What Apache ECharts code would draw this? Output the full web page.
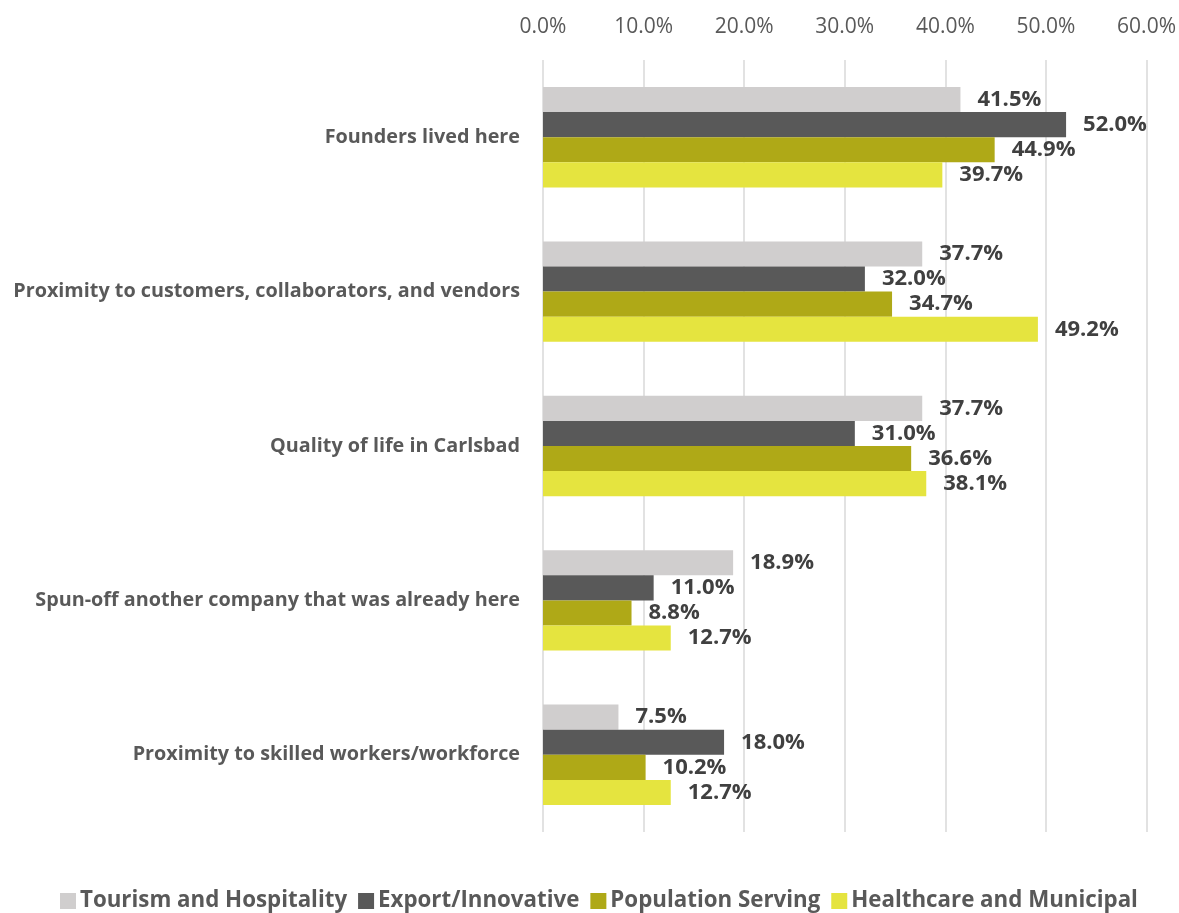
<!DOCTYPE html>
<html>
<head>
<meta charset="utf-8">
<script src="https://cdn.jsdelivr.net/npm/echarts@6/dist/echarts.min.js"></script>
<style>
  html, body { margin: 0; padding: 0; background: #fff; }
  #chart { width: 1179px; height: 913px; }
</style>
</head>
<body>
<div id="chart"></div>
<script>
// Reasons for locating the business in Carlsbad, by industry cluster (share of respondents, %)
const categories = [
  'Founders lived here',
  'Proximity to customers, collaborators, and vendors',
  'Quality of life in Carlsbad',
  'Spun-off another company that was already here',
  'Proximity to skilled workers/workforce'
];
const seriesNames = ['Tourism and Hospitality', 'Export/Innovative', 'Population Serving', 'Healthcare and Municipal'];
const tourism    = [41.5, 37.7, 37.7, 18.9, 7.5];
const exportInno = [52.0, 32.0, 31.0, 11.0, 18.0];
const population = [44.9, 34.7, 36.6, 8.8, 10.2];
const healthcare = [39.7, 49.2, 38.1, 12.7, 12.7];
const axisTicks  = [0, 10, 20, 30, 40, 50, 60];

const colors = ['#D0CECE', '#595959', '#AFA917', '#E5E43F'];
const FONT = '"Open Sans", "Liberation Sans", sans-serif';
const values = [tourism, exportInno, population, healthcare];

const chart = echarts.init(document.getElementById('chart'));
chart.setOption({
  animation: false,
  color: colors,
  textStyle: { fontFamily: FONT },
  grid: { left: 543, right: 31, top: 60, bottom: 81, containLabel: false },
  legend: {
    top: 890,
    left: 60,
    padding: 0,
    itemWidth: 16,
    itemHeight: 16,
    itemGap: 11,
    icon: 'rect',
    textStyle: { fontFamily: FONT, fontWeight: 'bold', fontSize: 22.3, color: '#595959', padding: [0, 0, 0, -1] },
    data: seriesNames
  },
  xAxis: {
    type: 'value',
    position: 'top',
    min: axisTicks[0],
    max: axisTicks[axisTicks.length - 1],
    interval: 10,
    axisLine: { show: false },
    axisTick: { show: false },
    axisLabel: {
      margin: 22,
      fontFamily: FONT,
      fontSize: 21,
      color: '#595959',
      formatter: v => v.toFixed(1) + '%'
    },
    splitLine: { show: true, lineStyle: { color: '#D9D9D9', width: 1.5 } }
  },
  yAxis: {
    type: 'category',
    inverse: true,
    data: categories,
    axisLine: { show: false },
    axisTick: { show: false },
    axisLabel: {
      margin: 23,
      fontFamily: FONT,
      fontWeight: 'bold',
      fontSize: 19.8,
      color: '#595959'
    }
  },
  series: seriesNames.map((name, i) => ({
    name,
    type: 'bar',
    data: values[i],
    barGap: '0%',
    barCategoryGap: '35%',
    itemStyle: { color: colors[i] },
    label: {
      show: true,
      position: 'right',
      distance: 17,
      fontFamily: FONT,
      fontWeight: 'bold',
      fontSize: 22,
      color: '#404040',
      formatter: p => p.value.toFixed(1) + '%'
    }
  }))
});
</script>
</body>
</html>
